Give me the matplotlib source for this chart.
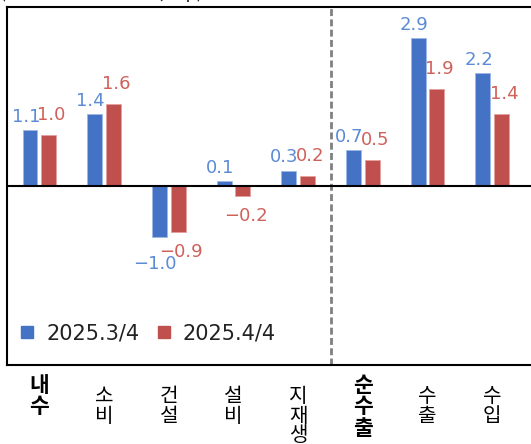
import matplotlib
matplotlib.use('Agg')
import matplotlib.pyplot as plt
from matplotlib.lines import Line2D
import numpy as np

plt.rcParams['font.family'] = ['DejaVu Sans', 'Noto Sans CJK KR']

# data (contribution, %p)
categories = ['내수', '소비', '건설', '설비', '지재생', '순수출', '수출', '수입']
main_items = ['내수', '순수출']
series_names = ['2025.3/4', '2025.4/4']
q3_values = [1.1, 1.4, -1.0, 0.1, 0.3, 0.7, 2.9, 2.2]
q4_values = [1.0, 1.6, -0.9, -0.2, 0.2, 0.5, 1.9, 1.4]
title = '(전기대비 성장기여도, %p)'

blue = '#4472C4'
red = '#C0504D'
blue_txt = '#5B8BD6'
red_txt = '#D0605A'

W, H = 531, 444
fig = plt.figure(figsize=(W / 100, H / 100), dpi=100)
ax = fig.add_axes([7 / W, 79 / H, 534 / W, 358 / H])

x = np.arange(len(categories))
w = 0.23
off = 0.145
ax.bar(x - off, q3_values, w, color=blue, edgecolor='#9db8e8', linewidth=0.6, zorder=2)
ax.bar(x + off, q4_values, w, color=red, edgecolor='#e3a09d', linewidth=0.6, zorder=2)

ax.set_xlim(-0.5, -0.5 + 534 / 64.7)
ax.set_ylim(-3.5, 3.5)
ax.axhline(0, color='black', lw=1.5, zorder=3)
ax.axvline(4.5, color='#808080', ls='--', lw=2, dashes=(2.5, 1.2), zorder=1)

def fmt(v):
    return '{:.1f}'.format(v).replace('-', '\u2212')

# (x positions, values, colour, dx, gap above, gap below) in points
for xs, vals, col, dx, up, down in [(x - off, q3_values, blue_txt, -3, 3, 13),
                                    (x + off, q4_values, red_txt, 2, 8, 8)]:
    for xi, v in zip(xs, vals):
        if v >= 0:
            ax.annotate(fmt(v), (xi, v), xytext=(dx, up), textcoords='offset points',
                        ha='center', va='bottom', color=col, fontsize=13)
        else:
            ax.annotate(fmt(v), (xi, v), xytext=(dx, -down), textcoords='offset points',
                        ha='center', va='top', color=col, fontsize=13)

for s in ax.spines.values():
    s.set_linewidth(1.5)
    s.set_color('black')
ax.set_xticks([])
ax.set_yticks([])

# vertical category labels
for i, c in enumerate(categories):
    bold = c in main_items
    ax.text(i, -(10 if bold else 21) / 358, '\n'.join(c), transform=ax.get_xaxis_transform(),
            ha='center', va='top', fontsize=15.5 if bold else 14.5,
            fontweight='bold' if bold else 'normal', family='Noto Sans CJK KR',
            linespacing=1.02 if bold else 0.92, color='black')

handles = [Line2D([], [], marker='s', color=blue, ls='none', markersize=8),
           Line2D([], [], marker='s', color=red, ls='none', markersize=8)]
ax.legend(handles, series_names, loc='center left', bbox_to_anchor=(12 / 534, 32 / 358),
          frameon=False, fontsize=15, handlelength=0.8, handletextpad=0.5,
          columnspacing=0.8, borderpad=0, borderaxespad=0, ncol=2, labelcolor='#222222')

fig.text(0.0, 1 + 2 / H, title, ha='left', va='baseline', fontsize=13,
         family='Noto Sans CJK KR', color='#222222')

plt.savefig('out.png', dpi=100)
